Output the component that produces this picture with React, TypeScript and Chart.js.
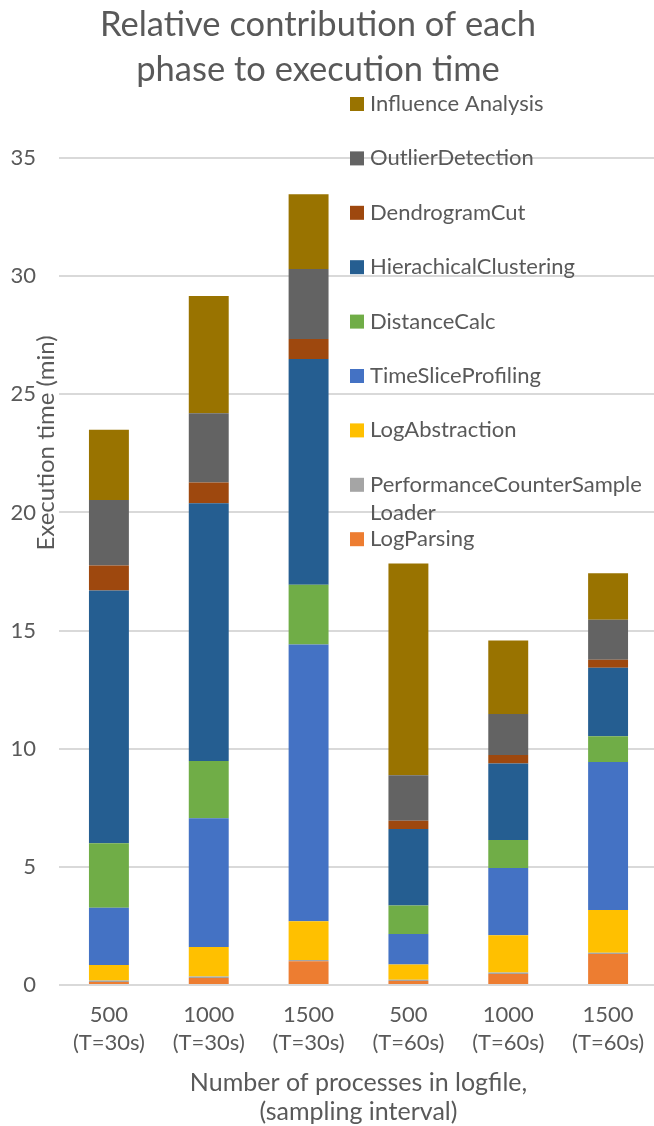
import React, { useEffect, useRef } from "react";
import { Chart, registerables } from "chart.js";

Chart.register(...registerables);

const categories: string[][] = [
  ["500", "(T=30s)"],
  ["1000", "(T=30s)"],
  ["1500", "(T=30s)"],
  ["500", "(T=60s)"],
  ["1000", "(T=60s)"],
  ["1500", "(T=60s)"],
];

// stacking order: bottom to top
const logParsing = [0.13, 0.3, 1.0, 0.17, 0.47, 1.31];
const perfCounterLoader = [0.06, 0.06, 0.06, 0.05, 0.06, 0.06];
const logAbstraction = [0.66, 1.25, 1.64, 0.65, 1.58, 1.8];
const timeSliceProfiling = [2.42, 5.45, 11.71, 1.29, 2.84, 6.27];
const distanceCalc = [2.73, 2.42, 2.53, 1.2, 1.19, 1.09];
const hierClustering = [10.7, 10.91, 9.55, 3.24, 3.23, 2.9];
const dendrogramCut = [1.05, 0.88, 0.85, 0.35, 0.36, 0.33];
const outlierDetection = [2.78, 2.93, 2.96, 1.93, 1.74, 1.7];
const influenceAnalysis = [2.97, 4.96, 3.17, 8.96, 3.11, 1.97];

const seriesNames = [
  "LogParsing",
  "PerformanceCounterSampleLoader",
  "LogAbstraction",
  "TimeSliceProfiling",
  "DistanceCalc",
  "HierachicalClustering",
  "DendrogramCut",
  "OutlierDetection",
  "Influence Analysis",
];
const seriesValues = [
  logParsing,
  perfCounterLoader,
  logAbstraction,
  timeSliceProfiling,
  distanceCalc,
  hierClustering,
  dendrogramCut,
  outlierDetection,
  influenceAnalysis,
];
const seriesColors = [
  "#ED7D31",
  "#A5A5A5",
  "#FFC000",
  "#4472C4",
  "#70AD47",
  "#255E91",
  "#9E480E",
  "#636363",
  "#997300",
];

const titleLines = ["Relative contribution of each", "phase to execution time"];
const yTitle = "Execution time (min)";
const xTitle = ["Number of processes in logfile,", "(sampling interval)"];

const FONT = "Lato, 'Open Sans', sans-serif";
const TEXT = "#595959";

const overlayPlugin = {
  id: "overlay",
  afterDraw(chart: any) {
    const ctx = chart.ctx as CanvasRenderingContext2D;
    ctx.save();
    ctx.fillStyle = TEXT;
    // Title
    ctx.font = `34.5px ${FONT}`;
    ctx.textAlign = "center";
    ctx.textBaseline = "middle";
    ctx.fillText(titleLines[0], 318, 25);
    ctx.fillText(titleLines[1], 318, 70);

    // Y axis title
    ctx.save();
    ctx.translate(46, 443);
    ctx.rotate(-Math.PI / 2);
    ctx.font = `24px ${FONT}`;
    ctx.textAlign = "center";
    ctx.textBaseline = "middle";
    ctx.fillText(yTitle, 0, 0);
    ctx.restore();

    // Legend (reverse order)
    ctx.font = `22px ${FONT}`;
    ctx.textAlign = "left";
    ctx.textBaseline = "middle";
    const maxW = 654 - 370 - 2;
    const ds = chart.data.datasets;
    for (let k = 0; k < ds.length; k++) {
      const d = ds[ds.length - 1 - k];
      const y = 104 + k * 54.4;
      ctx.fillStyle = d.backgroundColor;
      ctx.fillRect(350, y - 7, 14, 14);
      ctx.fillStyle = TEXT;
      const words: string[] = d.label.match(/[A-Z][^A-Z]*/g) || [d.label];
      const lines: string[] = [];
      let cur = "";
      if (ctx.measureText(d.label).width <= maxW) {
        lines.push(d.label);
      } else {
        for (const w of words) {
          const t = cur + w;
          if (cur && ctx.measureText(t).width > maxW) {
            lines.push(cur);
            cur = w;
          } else cur = t;
        }
        if (cur) lines.push(cur);
      }
      lines.forEach((ln, i) => ctx.fillText(ln, 370, y + i * 28));
    }
    ctx.restore();
  },
};

export default function App() {
  const ref = useRef<HTMLCanvasElement | null>(null);
  useEffect(() => {
    if (!ref.current) return;
    const chart = new Chart(ref.current, {
      type: "bar",
      data: {
        labels: categories as any,
        datasets: seriesNames.map((name, i) => ({
          label: name,
          data: seriesValues[i],
          backgroundColor: seriesColors[i],
          borderWidth: 0,
          barPercentage: 0.4,
          categoryPercentage: 1,
        })),
      },
      options: {
        responsive: false,
        animation: false,
        layout: { padding: { top: 158, right: 6, left: 0, bottom: 0 } },
        plugins: {
          legend: { display: false },
          title: { display: false },
          tooltip: { enabled: false },
        },
        scales: {
          x: {
            stacked: true,
            grid: { display: false, drawTicks: false },
            border: { display: false },
            ticks: {
              color: TEXT,
              font: { family: FONT, size: 22, lineHeight: 1.27 },
              padding: 16,
              maxRotation: 0,
              autoSkip: false,
            },
            title: {
              display: true,
              text: xTitle,
              color: TEXT,
              font: { family: FONT, size: 25, lineHeight: 1.16 },
              padding: { top: 0, bottom: 0 },
            },
            afterFit: (s: any) => {
              s.height = 141;
            },
          },
          y: {
            stacked: true,
            min: 0,
            max: 35,
            ticks: {
              stepSize: 5,
              color: TEXT,
              font: { family: FONT, size: 22 },
              padding: 23,
            },
            grid: { color: "#D9D9D9", lineWidth: 2, drawTicks: false },
            border: { display: false },
            afterFit: (s: any) => {
              s.width = 59;
            },
          },
        },
      },
      plugins: [overlayPlugin],
    });
    return () => chart.destroy();
  }, []);
  return (
    <div
      style={{
        position: "absolute",
        left: 0,
        top: 0,
        width: 654,
        height: 1126,
        overflow: "hidden",
        background: "#fff",
      }}
    >
      <canvas ref={ref} width={664} height={1126} style={{ display: "block" }} />
    </div>
  );
}
